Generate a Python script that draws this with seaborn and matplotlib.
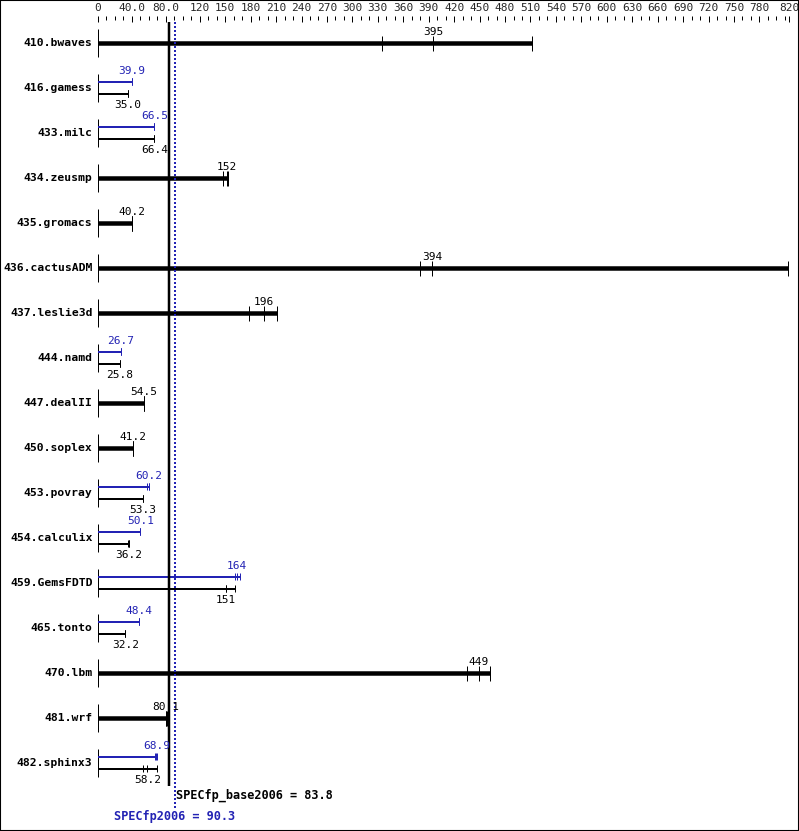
import matplotlib
matplotlib.use("Agg")
import matplotlib.pyplot as plt
from matplotlib.patches import Rectangle
import seaborn as sns
import pandas as pd

# ---------------- data ----------------
benchmarks = ["410.bwaves", "416.gamess", "433.milc", "434.zeusmp", "435.gromacs",
              "436.cactusADM", "437.leslie3d", "444.namd", "447.dealII", "450.soplex",
              "453.povray", "454.calculix", "459.GemsFDTD", "465.tonto", "470.lbm",
              "481.wrf", "482.sphinx3"]
base_median = [395, 35.0, 66.4, 152, 40.2, 394, 196, 25.8, 54.5, 41.2, 53.3, 36.2,
               151, 32.2, 449, 80.1, 58.2]
base_runs = [[335, 395, 512], [35.0, 35.0, 35.0], [66.4, 66.4, 66.4], [147, 152, 153],
             [40.0, 40.2, 40.4], [380, 394, 814], [178, 196, 211], [25.8, 25.8, 25.8],
             [54.3, 54.5, 54.7], [41.0, 41.2, 41.4], [53.3, 53.3, 53.3], [35.6, 36.2, 36.4],
             [150.5, 151, 162], [32.2, 32.2, 32.2], [435, 449, 462], [80.1, 80.1, 81.2],
             [52.7, 58.2, 69.1]]
peak_median = [None, 39.9, 66.5, None, None, None, None, 26.7, None, None, 60.2, 50.1,
               164, 48.4, None, None, 68.9]
peak_runs = [None, [39.9, 39.9, 39.9], [66.5, 66.5, 66.5], None, None, None, None,
             [26.7, 26.7, 26.7], None, None, [58.3, 60.2, 60.3], [50.1, 50.1, 50.1],
             [161.6, 164, 168], [48.4, 48.4, 48.4], None, None, [67.8, 68.9, 69.2]]
base_score = 83.8
peak_score = 90.3
tick_values = [0, 40, 80, 120, 150, 180, 210, 240, 270, 300, 330, 360, 390, 420, 450,
               480, 510, 540, 570, 600, 630, 660, 690, 720, 750, 780, 815]
tick_labels = ["0", "40.0", "80.0", "120", "150", "180", "210", "240", "270", "300",
               "330", "360", "390", "420", "450", "480", "510", "540", "570", "600",
               "630", "660", "690", "720", "750", "780", "820"]
minor_values = list(range(10, 811, 10))

BLUE = "#2323b4"
BLACK = "#000000"


def fmt(v):
    return f"{v:.0f}" if v >= 100 else f"{v:.1f}"


# ---------------- figure ----------------
sns.set_style("white")
plt.rcParams['font.family'] = ['DejaVu Sans Mono', 'DejaVu Sans']

W, H = 799, 831
fig = plt.figure(figsize=(W / 100, H / 100), dpi=100)
top_px = 16
ax = fig.add_axes([0, 0, 1, (H - top_px) / H])
ppu = 0.848          # pixels per unit
x0 = 98              # pixel of value 0
ax.set_xlim(-x0 / ppu, (W - x0) / ppu)
ax.set_ylim(H, top_px)
for s in ax.spines.values():
    s.set_visible(False)
ax.set_yticks([])
ax.set_facecolor("white")

row_h = 45
first = 43
PT = 0.72  # points per pixel

single_ticks = []
dual_ticks = []
for i, name in enumerate(benchmarks):
    yc = first + row_h * i
    # left bracket
    ax.vlines(0, yc - 14, yc + 14, color=BLACK, lw=1 * PT)
    ax.annotate(name, xy=(0, yc), xytext=(-4, 0), textcoords="offset points",
                ha="right", va="center", fontsize=8.2, fontweight="bold", color=BLACK)
    if peak_runs[i] is None:
        runs = base_runs[i]
        ax.hlines(yc, 0, max(runs), color=BLACK, lw=4.5 * PT)
        for r in runs:
            single_ticks.append({"value": r, "y": yc, "kind": "base"})
        ax.text(base_median[i], yc - 11, fmt(base_median[i]), ha="center", va="center",
                fontsize=8, color=BLACK)
    else:
        yp, yb = yc - 6, yc + 6
        ax.hlines(yp, 0, max(peak_runs[i]), color=BLUE, lw=2 * PT)
        ax.hlines(yb, 0, max(base_runs[i]), color=BLACK, lw=2 * PT)
        for r in peak_runs[i]:
            dual_ticks.append({"value": r, "y": yp, "kind": "peak"})
        for r in base_runs[i]:
            dual_ticks.append({"value": r, "y": yb, "kind": "base"})
        ax.text(peak_median[i], yc - 16.5, fmt(peak_median[i]), ha="center", va="center",
                fontsize=8, color=BLUE)
        ax.text(base_median[i], yc + 17.5, fmt(base_median[i]), ha="center", va="center",
                fontsize=8, color=BLACK)

df_s = pd.DataFrame(single_ticks)
df_d = pd.DataFrame(dual_ticks)
sns.scatterplot(data=df_s, x="value", y="y", marker="|", s=(15 * PT) ** 2,
                color=BLACK, linewidth=1 * PT, ax=ax, legend=False)
sns.scatterplot(data=df_d, x="value", y="y", hue="kind", palette={"peak": BLUE, "base": BLACK},
                marker="|", s=(7 * PT) ** 2, linewidth=1 * PT, ax=ax, legend=False)

# reference lines
ax.vlines(base_score, 22, 786, color=BLACK, lw=2.5 * PT)
ax.vlines(peak_score, 22, 808, color=BLUE, lw=2 * PT, linestyles=(0, (1, 1)))
ax.annotate(f"SPECfp_base2006 = {base_score}", xy=(base_score, 795), xytext=(5, 0),
            textcoords="offset points", ha="left", va="center", fontsize=8.6,
            fontweight="bold", color=BLACK)
ax.text(peak_score, 817, f"SPECfp2006 = {peak_score}", ha="center", va="center",
        fontsize=8.6, fontweight="bold", color=BLUE)

# top axis
ax.xaxis.tick_top()
ax.set_xticks(tick_values)
ax.set_xticklabels(tick_labels)
ax.set_xticks(minor_values, minor=True)
ax.tick_params(axis="x", which="major", direction="in", length=6 * PT, width=1 * PT,
               pad=2, labelsize=8, top=True, bottom=False, color=BLACK)
ax.tick_params(axis="x", which="minor", direction="in", length=3.5 * PT, width=1 * PT,
               top=True, bottom=False, color=BLACK)
ax.set_xlabel("")
ax.set_ylabel("")

fig.add_artist(Rectangle((0, 0), 1, 1, transform=fig.transFigure, fill=False,
                         edgecolor=BLACK, lw=1.5))

fig.savefig("out.png", dpi=100)
